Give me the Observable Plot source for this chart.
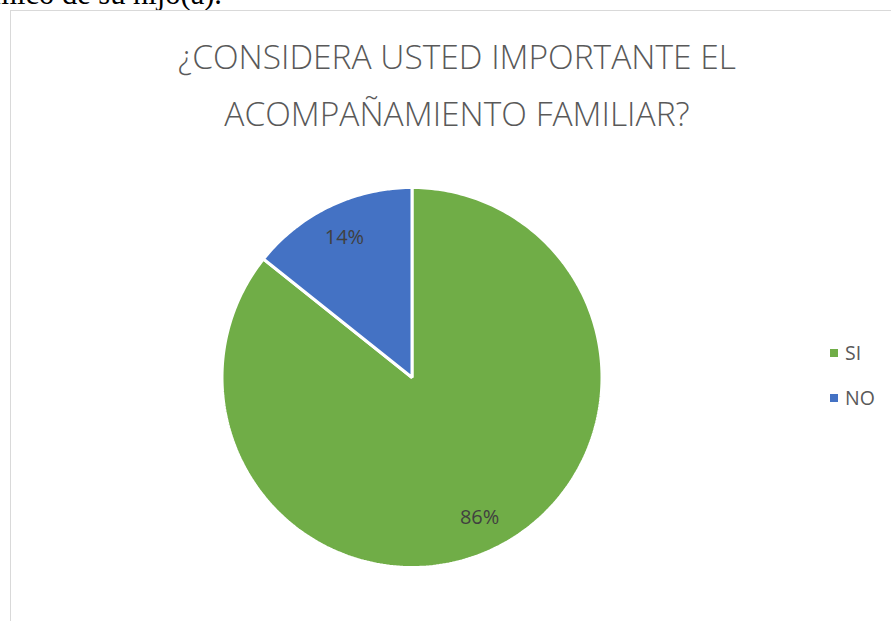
<!DOCTYPE html>
<html>
<head>
<meta charset="utf-8">
<script src="https://cdn.jsdelivr.net/npm/d3@7"></script>
<script src="https://cdn.jsdelivr.net/npm/@observablehq/plot@0.6"></script>
<style>
  html, body { margin: 0; padding: 0; background: #fff; width: 891px; height: 621px; overflow: hidden; }
  #wrap { position: relative; width: 891px; height: 621px; overflow: hidden; }
  #doc { position: absolute; right: 669px; top: -21px; line-height: 1; font-family: "Liberation Serif", serif; font-size: 30.5px; color: #000; white-space: nowrap; }
  #frame { position: absolute; left: 10px; top: 10px; width: 900px; height: 700px; border: 1px solid #d9d9d9; box-sizing: border-box; }
  .title { position: absolute; left: 0; width: 914px; text-align: center; font-family: "Open Sans", sans-serif; font-weight: 300; color: #595959; font-size: 33.5px; white-space: nowrap; }
  .leg { position: absolute; font-family: "Open Sans", sans-serif; font-size: 19.5px; color: #595959; }
  .sw { position: absolute; width: 8px; height: 8px; }
  #chart { position: absolute; left: 0; top: 0; }
</style>
</head>
<body>
<div id="wrap">
  <div id="doc">académico de su hijo(a).</div>
  <div id="frame"></div>
  <div id="chart"></div>
</div>
<script>
const categories = ["SI", "NO"];
const values = [6, 1];
const percentLabels = ["86%", "14%"];
const colors = ["#70AD47", "#4472C4"];
const titleLines = ["¿CONSIDERA USTED IMPORTANTE EL", "ACOMPAÑAMIENTO FAMILIAR?"];

// slices via d3.pie (clockwise from top, no sorting)
const arcs = d3.pie().sort(null).value(d => d)(values);
const pts = [];
arcs.forEach((a, i) => {
  pts.push({cat: categories[i], x: 0, y: 0});
  const n = Math.max(2, Math.ceil((a.endAngle - a.startAngle) / (Math.PI / 180)));
  for (let k = 0; k <= n; k++) {
    const t = a.startAngle + (a.endAngle - a.startAngle) * k / n;
    pts.push({cat: categories[i], x: Math.sin(t), y: Math.cos(t)});
  }
});
const labelData = arcs.map((a, i) => {
  const m = (a.startAngle + a.endAngle) / 2;
  return {x: 0.82 * Math.sin(m), y: 0.82 * Math.cos(m), text: percentLabels[i]};
});

const cx = 411.5, cy = 377, r = 190;
const plot = Plot.plot({
  width: 891,
  height: 621,
  margin: 0,
  style: {background: "transparent", overflow: "visible"},
  x: {domain: [-1, 1], range: [cx - r, cx + r], axis: null},
  y: {domain: [-1, 1], range: [cy + r, cy - r], axis: null},
  color: {domain: categories, range: colors},
  marks: [
    Plot.line(pts, {x: "x", y: "y", z: "cat", fill: "cat", stroke: "white", strokeWidth: 3, strokeLinejoin: "miter", curve: "linear-closed"}),
    Plot.text(labelData, {x: "x", y: "y", text: "text", fill: "#404040", fontSize: 20, fontFamily: "Open Sans, sans-serif"})
  ]
});
document.getElementById("chart").appendChild(plot);

const wrap = document.getElementById("wrap");
titleLines.forEach((t, i) => {
  const d = document.createElement("div");
  d.className = "title";
  d.style.top = (33 + i * 57) + "px";
  d.textContent = t;
  wrap.appendChild(d);
});
categories.forEach((c, i) => {
  const sw = document.createElement("div");
  sw.className = "sw";
  sw.style.left = "830px";
  sw.style.top = (349 + i * 45) + "px";
  sw.style.background = colors[i];
  wrap.appendChild(sw);
  const l = document.createElement("div");
  l.className = "leg";
  l.style.left = "845px";
  l.style.top = (339 + i * 45) + "px";
  l.textContent = c;
  wrap.appendChild(l);
});
</script>
</body>
</html>
